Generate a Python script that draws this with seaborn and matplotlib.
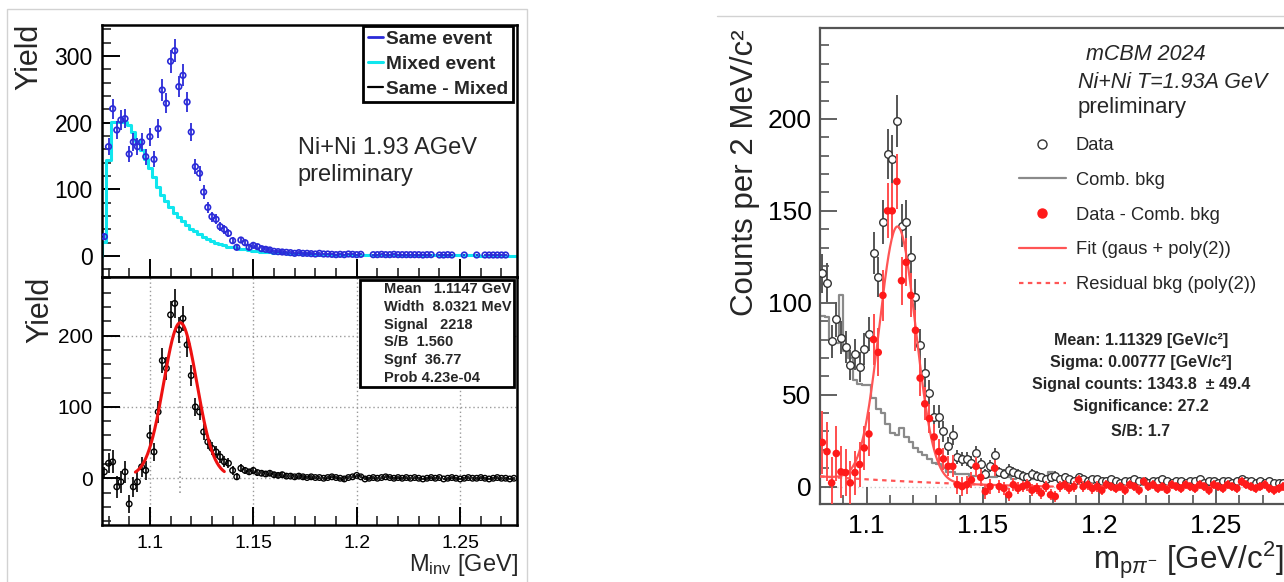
import numpy as np
import pandas as pd
import matplotlib
matplotlib.use("Agg")
import matplotlib.pyplot as plt
import seaborn as sns
from matplotlib.lines import Line2D
from matplotlib.patches import Rectangle
from matplotlib.ticker import MultipleLocator, FuncFormatter

nan = np.nan

# ------------------------------------------------------------------
# Left figure: Ni+Ni 1.93 AGeV, 2 MeV bins starting at 1.077 GeV
# ------------------------------------------------------------------
LEFT_START = 1.077
BIN_W = 0.002

SAME_EVENT = [
    29, 164, 221, 189, 204, 206, 153, 171, 164, 171,
    149, 179, 145, 191, 249, 229, 292, 308, 254, 271,
    231, 186, 134, 124, 96, 73, 59, 55, 44, 40,
    34, 23, 13, 24, 20, 13, 16, 14, 11, 10,
    9, 7, 6.5, 6, 5.5, 5, 4, 5, 4, 4,
    3.5, 3, 4, 3, 3, 2.5, 2, 2.5, 2, 3,
    2.5, 2, 2.5, nan, nan, 2, 2, 2.5, 2, 2,
    2.5, 2, 2, 2, 2, 2, 2, 1.5, 2, 2,
    nan, 1.5, 1.5, 2, 1.5, nan, nan, 1.5, nan, nan,
    1.5, nan, 1.5, 1.5, 1.5, 1.5, 1.5, 1.5, nan, nan,
]
SAME_EVENT_ERR = [
    5.4, 12.8, 14.9, 13.7, 14.3, 14.4, 12.4, 13.1, 12.8, 13.1,
    12.2, 13.4, 12.0, 13.8, 15.8, 15.1, 17.1, 17.5, 15.9, 16.5,
    15.2, 13.6, 11.6, 11.1, 9.8, 8.5, 7.7, 7.4, 6.6, 6.3,
    5.8, 4.8, 3.6, 4.9, 4.5, 3.6, 4.0, 3.7, 3.3, 3.2,
    3.0, 2.6, 2.5, 2.4, 2.3, 2.2, 2.0, 2.2, 2.0, 2.0,
    1.9, 1.7, 2.0, 1.7, 1.7, 1.6, 1.4, 1.6, 1.4, 1.7,
    1.6, 1.4, 1.6, 0, 0, 1.4, 1.4, 1.6, 1.4, 1.4,
    1.6, 1.4, 1.4, 1.4, 1.4, 1.4, 1.4, 1.2, 1.4, 1.4,
    0, 1.2, 1.2, 1.4, 1.2, 0, 0, 1.2, 0, 0,
    1.2, 0, 1.2, 1.2, 1.2, 1.2, 1.2, 1.2, 0, 0,
]
MIXED_EVENT = [
    21, 144, 201, 201, 201, 201, 196, 186, 173, 159,
    145, 132, 118, 104, 91, 82, 73, 65, 58, 52,
    46, 41, 37, 33, 29, 25, 22, 20, 18, 16,
    14, 13, 12, 11, 10, 9, 8, 7, 6.5, 6,
    5.5, 5, 4.6, 4.2, 3.9, 3.6, 3.3, 3.1, 2.9, 2.7,
    2.5, 2.3, 2.2, 2.0, 1.9, 1.8, 1.7, 1.6, 1.5, 1.5,
    1.4, 1.4, 1.3, 1.3, 1.3, 1.2, 1.2, 1.2, 1.1, 1.1,
    1.1, 1.1, 1.0, 1.0, 1.0, 1.0, 1.0, 0.9, 0.9, 0.9,
    0.9, 0.9, 0.9, 0.8, 0.8, 0.8, 0.8, 0.8, 0.8, 0.8,
    0.8, 0.7, 0.7, 0.7, 0.7, 0.7, 0.7, 0.7, 0.7, 0.7,
]
SAME_MINUS_MIXED = [
    9, 21, 23, -12, -5, 9, -36, -12, -5, 16,
    11, 60, 37, 93, 165, 154, 229, 245, 208, 224,
    187, 144, 100, 93, 65, 51, 42, 37, 30, 23,
    21, 11, 2, 14, 11, 9, 11, 8, 7, 6,
    7, 5, 4, 5, 3, 3, 2, 3, 2, 1,
    2, 1, 1, 0, 1, 2, 1, 0, -1, 1,
    2, 4, 2, -1, 0, 1, 0, 1, 2, 1,
    0, 1, 0, 1, 0, 1, 0, -1, 0, 1,
    0, 1, -1, 0, 1, 0, -1, 0, 1, 0,
    0, 1, 0, -1, 0, 1, 0, 0, -1, 0,
]
SAME_MINUS_MIXED_ERR = [
    7, 14, 16, 15, 15, 15, 13, 14, 14, 14,
    13, 14, 13, 15, 17, 16, 19, 20, 18, 18,
    17, 15, 13, 12, 11, 10, 9, 8.5, 8, 7.5,
    7, 6, 5, 5.5, 5, 4.5, 4.5, 4.2, 4, 3.8,
    3.6, 3.4, 3.3, 3.2, 3.0, 3.0, 2.8, 2.8, 2.7, 2.6,
    2.5, 2.5, 2.4, 2.4, 2.4, 2.3, 2.3, 2.3, 2.2, 2.2,
    2.2, 2.2, 2.1, 2.1, 2.1, 2.1, 2.1, 2.1, 2.0, 2.0,
    2.0, 2.0, 2.0, 2.0, 2.0, 2.0, 2.0, 2.0, 2.0, 2.0,
    2.0, 2.0, 2.0, 2.0, 2.0, 2.0, 2.0, 2.0, 2.0, 2.0,
    2.0, 2.0, 2.0, 2.0, 2.0, 2.0, 2.0, 2.0, 2.0, 2.0,
]
# fit shown in the lower-left panel
LFIT_MEAN = 1.1147        # GeV
LFIT_WIDTH = 0.0080321    # GeV
LFIT_AMP = 215.0
LFIT_CONST = 3.0
LFIT_RANGE = (1.093, 1.136)
LEFT_STATS = ["Mean   1.1147 GeV", "Width  8.0321 MeV", "Signal   2218",
              "S/B  1.560", "Sgnf  36.77", "Prob 4.23e-04"]
LEFT_LEGEND = ["Same event", "Mixed event", "Same - Mixed"]

# ------------------------------------------------------------------
# Right figure: mCBM 2024, 2 MeV bins starting at 1.080 GeV/c^2
# ------------------------------------------------------------------
RIGHT_START = 1.080
DATA = [
    116, 111, 79, 91, 81, 76, 66, 72, 65, 75,
    83, 127, 114, 144, 181, 178, 199, 142, 144, 125,
    103, 77, 62, 51, 38, 38, 30, 22, 28, 16,
    15, 15, 13, 18, 12, 7, 11, 17, 8, 7,
    9, 8, 7, 6, 5, 7, 6, 5, 4, 5,
    6, 4, 5, 4, 3, 5, 4, 3, 4, 4,
    3, 3, 4, 3, 2, 3, 3, 4, 3, 3,
    2, 3, 3, 4, 3, 2, 3, 3, 2, 3,
    3, 4, 2, 3, 3, 2, 3, 3, 2, 3,
    4, 3, 3, 2, 3, 2, 3, 2, 2, 2,
]
DATA_ERR = [
    10.8, 10.5, 8.9, 9.5, 9.0, 8.7, 8.1, 8.5, 8.1, 8.7,
    9.1, 11.3, 10.7, 12.0, 13.5, 13.3, 14.1, 11.9, 12.0, 11.2,
    10.1, 8.8, 7.9, 7.1, 6.2, 6.2, 5.5, 4.7, 5.3, 4.0,
    3.9, 3.9, 3.6, 4.2, 3.5, 2.6, 3.3, 4.1, 2.8, 2.6,
    3.0, 2.8, 2.6, 2.4, 2.2, 2.6, 2.4, 2.2, 2.0, 2.2,
    2.4, 2.0, 2.2, 2.0, 1.7, 2.2, 2.0, 1.7, 2.0, 2.0,
    1.7, 1.7, 2.0, 1.7, 1.4, 1.7, 1.7, 2.0, 1.7, 1.7,
    1.4, 1.7, 1.7, 2.0, 1.7, 1.4, 1.7, 1.7, 1.4, 1.7,
    1.7, 2.0, 1.4, 1.7, 1.7, 1.4, 1.7, 1.7, 1.4, 1.7,
    2.0, 1.7, 1.7, 1.4, 1.7, 1.4, 1.7, 1.4, 1.4, 1.4,
]
COMB_BKG = [
    93, 92, 80, 78, 104, 74, 70, 58, 56, 55,
    55, 48, 42, 40, 34, 29, 28, 32, 27, 24,
    21, 19, 17, 15, 13, 12, 10, 8, 8, 7,
    7, 7, 6, 6, 6, 5, 5, 5, 6, 5,
    5, 4, 5, 4, 4, 4, 5, 4, 6, 8,
    4, 4, 3, 4, 3, 3, 4, 3, 3, 3,
    3, 2, 3, 3, 2, 3, 2, 3, 3, 2,
    3, 2, 3, 2, 3, 3, 2, 3, 2, 3,
    2, 3, 2, 3, 2, 2, 3, 2, 3, 2,
    3, 2, 2, 3, 2, 2, 3, 2, 2, 2,
]
DATA_MINUS_BKG = [
    24, 19, 2, 18, 8, 7.6, 2, 7.6, 12, 21,
    28.6, 80, 73, 104, 150, 150, 166, 112, 122, 104,
    85, 59, 45, 37, 27, 19, 15, 11, 11, 1,
    0, 1, 3.6, 11, 5, -2.7, 0, 10, 0, -1,
    -4.5, 1, -1, 0, 1, -2, -1, -3.6, 0, -4.5,
    -5.4, 0, 1, -1, 0, 3.6, 0, 1, -1, 0,
    -2, 1, 0, -1, 0, -2, 1, 0, -2, 2.7,
    0, 1, -1, 0, -1.8, 1, 0, -1, 1, 0,
    -1, 1, 0, -2, 1, 0, -1, 1, 0, -1,
    2.7, 1, 0, -1, 0, 1, -1, -2, -1, 0,
]
DATA_MINUS_BKG_ERR = [
    17, 16, 14, 15, 14, 13, 12, 12, 12, 12,
    12, 14, 13, 14, 15, 15, 15, 13, 13, 12,
    11, 10, 9, 8, 7, 7, 6, 5.5, 6, 5,
    5, 5, 4.5, 5, 4.5, 4, 4, 4.5, 3.5, 3.5,
    3.5, 3.5, 3.3, 3.2, 3.2, 3.2, 3.0, 3.0, 3.0, 3.0,
    2.8, 2.8, 2.8, 2.8, 2.8, 2.8, 2.8, 2.8, 2.8, 2.8,
    2.6, 2.6, 2.6, 2.6, 2.6, 2.6, 2.6, 2.6, 2.6, 2.6,
    2.5, 2.5, 2.5, 2.5, 2.5, 2.5, 2.5, 2.5, 2.5, 2.5,
    2.5, 2.5, 2.5, 2.5, 2.5, 2.5, 2.5, 2.5, 2.5, 2.5,
    2.5, 2.5, 2.5, 2.5, 2.5, 2.5, 2.5, 2.5, 2.5, 2.5,
]
# fit (gaus + poly(2)) in the right panel
RFIT_MEAN = 1.11329
RFIT_SIGMA = 0.00777
RFIT_AMP = 138.5
RBKG_REF = 1.18
RBKG_C2 = 291.7
RBKG_C1 = -25.8
RFIT_RANGE = (1.080, 1.180)
RBKG_RANGE = (1.080, 1.150)
RIGHT_STATS = ["Mean: 1.11329 [GeV/c\u00b2]", "Sigma: 0.00777 [GeV/c\u00b2]",
               "Signal counts: 1343.8  \u00b1 49.4", "Significance: 27.2", "S/B: 1.7"]
RIGHT_LEGEND = ["Data", "Comb. bkg", "Data - Comb. bkg", "Fit (gaus + poly(2))",
                "Residual bkg (poly(2))"]

# ------------------------------------------------------------------
sns.set_theme(style="ticks")
plt.rcParams["font.family"] = ["Liberation Sans", "DejaVu Sans"]
plt.rcParams["mathtext.fontset"] = "custom"
plt.rcParams["mathtext.rm"] = "Liberation Sans"
plt.rcParams["mathtext.it"] = "Liberation Sans:italic"
plt.rcParams["mathtext.bf"] = "Liberation Sans:bold"

W, H = 1284, 582
fig = plt.figure(figsize=(W / 100, H / 100), dpi=100)
fig.patch.set_facecolor("white")


def fx(px):
    return px / W


def fy(py):
    return 1 - py / H


def px_rect(x0, y0, x1, y1):
    return [x0 / W, 1 - y1 / H, (x1 - x0) / W, (y1 - y0) / H]


def step_frame(edges, values):
    """Histogram outline as a steps-post frame built from bin edges and contents."""
    vals = list(values)
    return pd.DataFrame({"edge": list(edges), "val": vals + [vals[-1]]})


BLUE = "#2a2ad8"
CYAN = "#10e6ee"
tickfmt = FuncFormatter(lambda v, p: f"{v:g}")

n_left = len(SAME_EVENT)
left_edges = LEFT_START + BIN_W * np.arange(n_left + 1)
left_df = pd.DataFrame({
    "m": left_edges[:-1] + BIN_W / 2,
    "same": SAME_EVENT, "same_err": SAME_EVENT_ERR,
    "mixed": MIXED_EVENT,
    "diff": SAME_MINUS_MIXED, "diff_err": SAME_MINUS_MIXED_ERR,
})

# ---------------- left top panel ----------------
ax_top = fig.add_axes(px_rect(102.3, 25, 517, 277))
mixed_steps = step_frame(left_edges, MIXED_EVENT)
sns.lineplot(data=mixed_steps, x="edge", y="val", ax=ax_top, color=CYAN, linewidth=2.2,
             drawstyle="steps-post", estimator=None, sort=False, zorder=2)
ax_top.plot([left_edges[0], left_edges[0]], [0, MIXED_EVENT[0]], color=CYAN, lw=2.2,
            zorder=2)
ax_top.errorbar(left_df["m"], left_df["same"], yerr=left_df["same_err"], fmt="none",
                ecolor=BLUE, elinewidth=1.3, capsize=0, zorder=3)
sns.scatterplot(data=left_df, x="m", y="same", ax=ax_top, marker="o", s=16,
                facecolor="none", edgecolor=BLUE, linewidth=1.2, zorder=4, legend=False)
ax_top.set_xlim(1.077, 1.2775)
ax_top.set_ylim(-31.5, 346.5)
ax_top.set_xlabel("")
ax_top.set_ylabel("")

# ---------------- left bottom panel ----------------
ax_bot = fig.add_axes(px_rect(102.3, 277, 517, 525))
ax_bot.errorbar(left_df["m"], left_df["diff"], yerr=left_df["diff_err"], fmt="none",
                ecolor="black", elinewidth=1.2, capsize=0, zorder=3)
sns.scatterplot(data=left_df, x="m", y="diff", ax=ax_bot, marker="o", s=16,
                facecolor="none", edgecolor="black", linewidth=1.0, zorder=4, legend=False)
lfx = np.linspace(LFIT_RANGE[0], LFIT_RANGE[1], 200)
lfy = LFIT_AMP * np.exp(-0.5 * ((lfx - LFIT_MEAN) / LFIT_WIDTH) ** 2) + LFIT_CONST
sns.lineplot(x=lfx, y=lfy, ax=ax_bot, color="#ee1111", linewidth=2.2, zorder=5,
             estimator=None, sort=False)
ax_bot.plot([LFIT_MEAN, LFIT_MEAN], [-21, 222], color="#999999", linestyle=(0, (1, 2)),
            linewidth=1.2, zorder=1)
ax_bot.set_xlim(1.077, 1.2775)
ax_bot.set_ylim(-65.5, 282)
ax_bot.set_xlabel("")
ax_bot.set_ylabel("")
ax_bot.grid(True, which="major", color="#9a9a9a", linestyle=(0, (1, 2)), linewidth=1.0)

for ax, ymaj, lsize in ((ax_top, 100, 16.5), (ax_bot, 100, 15)):
    ax.xaxis.set_major_locator(MultipleLocator(0.05))
    ax.xaxis.set_minor_locator(MultipleLocator(0.01))
    ax.yaxis.set_major_locator(MultipleLocator(ymaj))
    ax.yaxis.set_minor_locator(MultipleLocator(20))
    ax.xaxis.set_major_formatter(tickfmt)
    ax.tick_params(which="major", direction="in", length=13, width=1.4, top=False,
                   right=False, labelsize=lsize, pad=7, colors="black")
    ax.tick_params(which="minor", direction="in", length=6.5, width=1.2, top=False,
                   right=False)
    for s in ax.spines.values():
        s.set_color("black")
        s.set_linewidth(1.8)
    ax.set_facecolor("white")
ax_top.tick_params(labelbottom=False)
ax_bot.tick_params(axis="x", labelsize=14, pad=7)

# legend of the upper left panel
lhandles = [Line2D([], [], color=BLUE, lw=2), Line2D([], [], color=CYAN, lw=2.2),
            Line2D([], [], color="black", lw=1.6)]
leg = ax_top.legend(lhandles, LEFT_LEGEND, loc="upper right",
                    bbox_to_anchor=(fx(513), fy(26)), bbox_transform=fig.transFigure,
                    frameon=True, fancybox=False, edgecolor="black", framealpha=1,
                    borderpad=0.25, labelspacing=0.38, handlelength=0.8,
                    handletextpad=0.15, borderaxespad=0,
                    prop={"weight": "bold", "size": 13.8})
leg.get_frame().set_linewidth(2)

fig.text(fx(297.5), fy(148), "Ni+Ni 1.93 AGeV", fontsize=17, ha="left", va="center")
fig.text(fx(297.5), fy(175), "preliminary", fontsize=17, ha="left", va="center")
fig.text(fx(29), fy(24), "Yield", rotation=90, fontsize=22, ha="center", va="top")
fig.text(fx(40), fy(277), "Yield", rotation=90, fontsize=22, ha="center", va="top")
fig.text(fx(518), fy(565), r"M$_{\mathrm{inv}}$ [GeV]", fontsize=17, ha="right",
         va="center")

# stats box of the lower left panel
fig.add_artist(Rectangle((fx(360), fy(387)), (514 - 360) / W, (387 - 280) / H,
                         transform=fig.transFigure, facecolor="white",
                         edgecolor="black", linewidth=2, zorder=10))
for i, line in enumerate(LEFT_STATS):
    fig.text(fx(384), fy(289 + 17.8 * i), line, fontsize=10.5, fontweight="bold",
             ha="left", va="center", zorder=11)

# frame around the left picture
fig.add_artist(Rectangle((fx(7), fy(600)), 520 / W, 591 / H, transform=fig.transFigure,
                         fill=False, edgecolor="#d2d2d2", linewidth=1))

# ---------------- right panel ----------------
n_right = len(DATA)
right_edges = RIGHT_START + BIN_W * np.arange(n_right + 1)
right_df = pd.DataFrame({
    "m": right_edges[:-1] + BIN_W / 2,
    "data": DATA, "data_err": DATA_ERR,
    "bkg": COMB_BKG,
    "sub": DATA_MINUS_BKG, "sub_err": DATA_MINUS_BKG_ERR,
})
GRAY = "#555555"
RED = "#ff1a1a"
FITRED = "#ff5555"

ax_r = fig.add_axes(px_rect(820, 28, 1285.8, 504))
ax_r.axhline(0, color="#cccccc", linestyle=(0, (1, 2)), linewidth=1, zorder=0)
bkg_steps = step_frame(right_edges, COMB_BKG)
sns.lineplot(data=bkg_steps, x="edge", y="val", ax=ax_r, color="#8a8a8a",
             linewidth=1.6, drawstyle="steps-post", estimator=None, sort=False, zorder=2)
ax_r.errorbar(right_df["m"], right_df["data"], yerr=right_df["data_err"], fmt="none",
              ecolor=GRAY, elinewidth=1.4, capsize=0, zorder=3)
sns.scatterplot(data=right_df, x="m", y="data", ax=ax_r, marker="o", s=30,
                facecolor="white", edgecolor="#333333", linewidth=1.0, zorder=4,
                legend=False)
rfx = np.linspace(RFIT_RANGE[0], RFIT_RANGE[1], 300)
rbkg = RBKG_C2 * (rfx - RBKG_REF) ** 2 + RBKG_C1 * (rfx - RBKG_REF)
rfy = RFIT_AMP * np.exp(-0.5 * ((rfx - RFIT_MEAN) / RFIT_SIGMA) ** 2) + rbkg
sns.lineplot(x=rfx, y=rfy, ax=ax_r, color=FITRED, linewidth=1.6, zorder=5,
             estimator=None, sort=False)
bx = np.linspace(RBKG_RANGE[0], RBKG_RANGE[1], 100)
by = RBKG_C2 * (bx - RBKG_REF) ** 2 + RBKG_C1 * (bx - RBKG_REF)
ax_r.plot(bx, by, color=FITRED, linewidth=1.6, linestyle=(0, (2, 2)), zorder=5)
ax_r.errorbar(right_df["m"], right_df["sub"], yerr=right_df["sub_err"], fmt="none",
              ecolor="#ff4d4d", elinewidth=1.4, capsize=0, zorder=6)
sns.scatterplot(data=right_df, x="m", y="sub", ax=ax_r, marker="o", s=30,
                color=RED, edgecolor="none", linewidth=0, zorder=7, legend=False)
ax_r.set_xlim(1.08, 1.28)
ax_r.set_ylim(-9.5, 249.5)
ax_r.set_xlabel("")
ax_r.set_ylabel("")
ax_r.xaxis.set_major_locator(MultipleLocator(0.05))
ax_r.xaxis.set_minor_locator(MultipleLocator(0.01))
ax_r.yaxis.set_major_locator(MultipleLocator(50))
ax_r.yaxis.set_minor_locator(MultipleLocator(10))
ax_r.xaxis.set_major_formatter(tickfmt)
ax_r.tick_params(which="major", direction="in", length=12, width=1.3, color=GRAY,
                 top=False, right=False, labelsize=19, labelcolor="black", pad=7)
ax_r.tick_params(which="minor", direction="in", length=6.5, width=1.2, color=GRAY,
                 top=False, right=False)
ax_r.tick_params(axis="y", pad=6)
for s in ax_r.spines.values():
    s.set_color(GRAY)
    s.set_linewidth(1.6)

rhandles = [
    Line2D([], [], ls="none", marker="o", mfc="white", mec="#333333", ms=6.5, mew=1),
    Line2D([], [], color="#8a8a8a", lw=1.6),
    Line2D([], [], ls="none", marker="o", color=RED, ms=6.5),
    Line2D([], [], color=FITRED, lw=1.6),
    Line2D([], [], color=FITRED, lw=1.6, ls=(0, (2, 2))),
]
ax_r.legend(rhandles, RIGHT_LEGEND, loc="upper left", bbox_to_anchor=(fx(1019), fy(137)),
            bbox_transform=fig.transFigure, frameon=False, borderpad=0,
            borderaxespad=0, handlelength=2.55, handletextpad=0.55, labelspacing=0.97,
            prop={"size": 13.2})

fig.text(fx(1086), fy(55), "mCBM 2024", fontsize=15.5, style="italic", ha="left",
         va="center")
fig.text(fx(1078), fy(83), "Ni+Ni T=1.93A GeV", fontsize=15.5, style="italic",
         ha="left", va="center")
fig.text(fx(1078), fy(108), "preliminary", fontsize=16, ha="left", va="center")
for i, (line, yy) in enumerate(zip(RIGHT_STATS, [340, 362, 384, 407, 432])):
    fig.text(fx(1141), fy(yy), line, fontsize=11.5, fontweight="bold", ha="center",
             va="center")

fig.text(fx(745), fy(29), "Counts per 2 MeV/c\u00b2", rotation=90, fontsize=22.5,
         ha="center", va="top")
fig.text(fx(1283), fy(560), r"m$_{\mathrm{p}\pi^{\mathrm{-}}}$ [GeV/c$^{2}$]",
         fontsize=22.5, ha="right", va="center")

fig.add_artist(Line2D([fx(717), 1.0], [fy(16), fy(16)], transform=fig.transFigure,
                      color="#d2d2d2", linewidth=1))

fig.savefig("out.png", dpi=100, facecolor="white")
